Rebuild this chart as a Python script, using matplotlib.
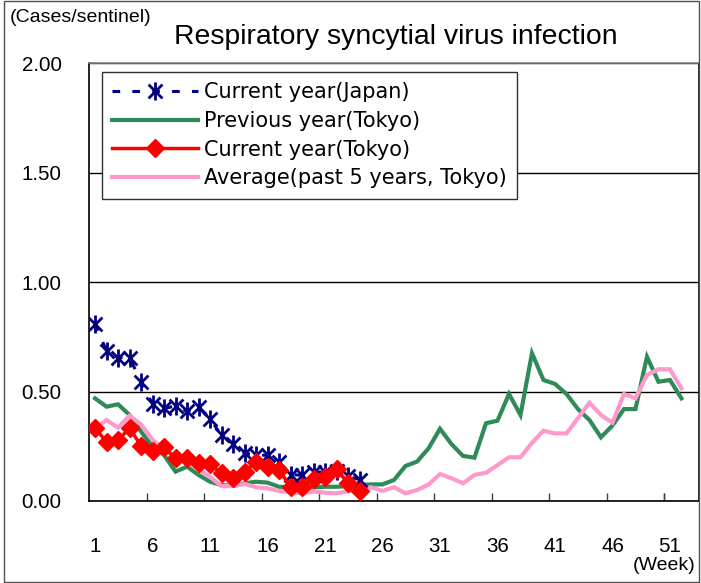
import matplotlib
matplotlib.use('Agg')
import matplotlib.pyplot as plt
from matplotlib.path import Path
from matplotlib.patches import Rectangle

# weekly values (cases per sentinel)
weeks_all = list(range(1, 53))
weeks_cur = list(range(1, 25))

japan_current = [0.81, 0.685, 0.655, 0.655, 0.545, 0.443, 0.423, 0.434, 0.41, 0.428,
                 0.375, 0.30, 0.262, 0.218, 0.212, 0.208, 0.178, 0.12, 0.118, 0.131,
                 0.133, 0.136, 0.112, 0.098]

tokyo_current = [0.332, 0.271, 0.279, 0.332, 0.253, 0.23, 0.245, 0.195, 0.195, 0.175,
                 0.168, 0.127, 0.104, 0.134, 0.177, 0.157, 0.142, 0.065, 0.065, 0.1,
                 0.111, 0.145, 0.084, 0.047]

tokyo_previous = [0.469, 0.431, 0.442, 0.393, 0.317, 0.248, 0.21, 0.134, 0.157, 0.119,
                  0.088, 0.073, 0.069, 0.081, 0.088, 0.084, 0.065, 0.062, 0.058, 0.062,
                  0.065, 0.065, 0.068, 0.073, 0.076, 0.076, 0.096, 0.16, 0.18, 0.24,
                  0.33, 0.26, 0.206, 0.198, 0.355, 0.367, 0.489, 0.393, 0.675, 0.553,
                  0.535, 0.489, 0.42, 0.37, 0.291, 0.345, 0.42, 0.42, 0.659, 0.545,
                  0.553, 0.469]

tokyo_average = [0.33, 0.37, 0.335, 0.39, 0.35, 0.28, 0.235, 0.2, 0.18, 0.145,
                 0.11, 0.068, 0.068, 0.078, 0.063, 0.058, 0.045, 0.04, 0.035, 0.043,
                 0.038, 0.035, 0.045, 0.055, 0.063, 0.046, 0.063, 0.035, 0.05, 0.075,
                 0.123, 0.104, 0.081, 0.119, 0.129, 0.164, 0.2, 0.2, 0.266, 0.321,
                 0.309, 0.309, 0.378, 0.449, 0.393, 0.358, 0.489, 0.469, 0.576, 0.602,
                 0.602, 0.515]

xtick_labels = [1, 6, 11, 16, 21, 26, 31, 36, 41, 46, 51]
ytick_values = [0.0, 0.5, 1.0, 1.5, 2.0]

W, H = 701, 583
fig = plt.figure(figsize=(W / 100, H / 100), dpi=100)
ax = fig.add_axes([89.3 / W, (H - 501) / H, (698.7 - 89.3) / W, (501 - 63.3) / H])

# asterisk marker: an X plus a vertical bar
star = Path([(-1, -1), (1, 1), (-1, 1), (1, -1), (0, -1.3), (0, 1.3)],
            [Path.MOVETO, Path.LINETO, Path.MOVETO, Path.LINETO, Path.MOVETO, Path.LINETO])

ax.plot(weeks_all, tokyo_previous, color='#2E8B57', lw=3, zorder=3,
        label='Previous year(Tokyo)', solid_joinstyle='miter')
ax.plot(weeks_all, tokyo_average, color='#FF99CC', lw=3, zorder=4,
        label='Average(past 5 years, Tokyo)', solid_joinstyle='miter')
ax.plot(weeks_cur, japan_current, color='#000080', lw=2.2, ls=(0, (2.5, 4)),
        marker=star, ms=13, mew=2, mec='#000080', mfc='none', zorder=5,
        label='Current year(Japan)')
ax.plot(weeks_cur, tokyo_current, color='#FF0000', lw=2.5, marker='D', ms=9,
        mec='#FF0000', mfc='#FF0000', zorder=6, label='Current year(Tokyo)')

ax.set_xlim(0.5, 53.5)
ax.set_ylim(0, 2.0)
ax.set_xticks(xtick_labels)
ax.set_xticklabels([str(v) for v in xtick_labels], fontsize=14.8, family='Liberation Sans')
ax.set_xticks([x + 4.5 for x in xtick_labels[:-1]] + [50.5], minor=True)
ax.tick_params(axis='x', which='major', length=0, pad=26)
ax.tick_params(axis='x', which='minor', direction='in', length=6, width=1, color='#404040')
ax.set_yticks(ytick_values)
ax.set_yticklabels(['%.2f' % v for v in ytick_values], fontsize=14.8, family='Liberation Sans')
ax.tick_params(axis='y', length=0, pad=20)
ax.grid(axis='y', color='black', lw=1)
ax.set_axisbelow(True)
for s in ax.spines.values():
    s.set_linewidth(1.2)
    s.set_color('black')
ax.spines['top'].set_color('#808080')

handles, labels = ax.get_legend_handles_labels()
order = [2, 0, 3, 1]
leg = ax.legend([handles[i] for i in order], [labels[i] for i in order],
                loc='upper left', bbox_to_anchor=(101.7 / W, 1 - 71.7 / H),
                bbox_transform=fig.transFigure, borderaxespad=0,
                prop={'family': 'DejaVu Sans', 'size': 15},
                handlelength=4.1, handletextpad=0.3, labelspacing=0.42,
                borderpad=0.5, fancybox=False, framealpha=1, edgecolor='#303030')
leg.get_frame().set_linewidth(1)

fig.text(396 / W, 1 - 37 / H, 'Respiratory syncytial virus infection',
         ha='center', va='center', fontsize=20.4, family='Liberation Sans')
fig.text(10 / W, 1 - 17 / H, '(Cases/sentinel)', ha='left', va='center',
         fontsize=14, family='Liberation Sans')
fig.text(695 / W, 1 - 566 / H, '(Week)', ha='right', va='center',
         fontsize=14, family='Liberation Sans')

fig.patches.append(Rectangle((4 / W, 1 / H), 695 / W, 581 / H, transform=fig.transFigure,
                             fill=False, edgecolor='#505050', lw=1))

fig.savefig('out.png', dpi=100)
